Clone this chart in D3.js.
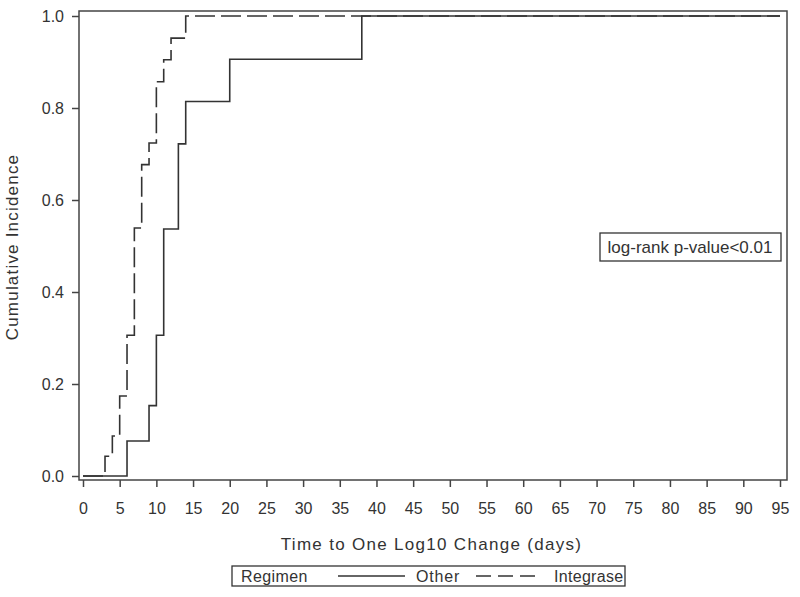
<!DOCTYPE html>
<html>
<head>
<meta charset="utf-8">
<script src="https://cdn.jsdelivr.net/npm/d3@7"></script>
<style>
  body { margin: 0; background: #fff; }
  text { font-family: "Liberation Sans", Arial, sans-serif; fill: #333; }
</style>
</head>
<body>
<div id="chart"></div>
<script>
// step curves (time in days, cumulative incidence)
const otherTimes = [0, 6, 9, 10, 11, 13, 14, 20, 38, 95]
const otherValues = [0, 0.076, 0.153, 0.306, 0.537, 0.722, 0.814, 0.906, 1.0, 1.0]
const integraseTimes = [0, 3, 4, 5, 6, 7, 8, 9, 10, 11, 12, 14, 95]
const integraseValues = [0, 0.043, 0.087, 0.174, 0.306, 0.539, 0.677, 0.724, 0.857, 0.905, 0.952, 1.0, 1.0]
const xTicks = d3.range(0, 100, 5)
const yTicks = [0, 0.2, 0.4, 0.6, 0.8, 1.0]
const legendTitle = 'Regimen'
const seriesNames = ['Other', 'Integrase']
const annotation = 'log-rank p-value<0.01'

const width = 800
const height = 597
const frame = { left: 79, right: 787, top: 11, bottom: 480 }
const ink = '#333'

const svg = d3.select('#chart').append('svg')
  .attr('width', width)
  .attr('height', height)

const xScale = d3.scaleLinear().domain([0, 95]).range([83, 780])
const yScale = d3.scaleLinear().domain([0, 1]).range([476, 16])

// plot frame
svg.append('rect')
  .attr('x', frame.left)
  .attr('y', frame.top)
  .attr('width', frame.right - frame.left)
  .attr('height', frame.bottom - frame.top)
  .attr('fill', 'none')
  .attr('stroke', '#444')
  .attr('stroke-width', 1.5)

const xAxis = svg.append('g')
  .attr('transform', 'translate(0,' + frame.bottom + ')')
  .call(d3.axisBottom(xScale).tickValues(xTicks).tickSize(7).tickPadding(16).tickFormat(d3.format('d')))
xAxis.select('.domain').remove()
xAxis.selectAll('line').attr('stroke', '#444').attr('stroke-width', 1.5)
xAxis.selectAll('text').attr('font-size', 16).attr('fill', ink)

const yAxis = svg.append('g')
  .attr('transform', 'translate(' + frame.left + ',0)')
  .call(d3.axisLeft(yScale).tickValues(yTicks).tickSize(7).tickPadding(8).tickFormat(d3.format('.1f')))
yAxis.select('.domain').remove()
yAxis.selectAll('line').attr('stroke', '#444').attr('stroke-width', 1.5)
yAxis.selectAll('text').attr('font-size', 16).attr('fill', ink)

svg.append('text')
  .attr('x', (xScale(0) + xScale(95)) / 2)
  .attr('y', 550)
  .attr('text-anchor', 'middle')
  .attr('font-size', 17)
  .attr('letter-spacing', 1.3)
  .text('Time to One Log10 Change (days)')

svg.append('text')
  .attr('transform', 'translate(18,247) rotate(-90)')
  .attr('text-anchor', 'middle')
  .attr('font-size', 17)
  .attr('letter-spacing', 1.2)
  .text('Cumulative Incidence')

const stepLine = d3.line()
  .curve(d3.curveStepAfter)
  .x(d => xScale(d[0]))
  .y(d => yScale(d[1]))

svg.append('path')
  .datum(d3.zip(otherTimes, otherValues))
  .attr('d', stepLine)
  .attr('fill', 'none')
  .attr('stroke', ink)
  .attr('stroke-width', 1.6)

svg.append('path')
  .datum(d3.zip(integraseTimes, integraseValues))
  .attr('d', stepLine)
  .attr('fill', 'none')
  .attr('stroke', ink)
  .attr('stroke-width', 1.6)
  .attr('stroke-dasharray', '20,6')

// p-value box
svg.append('rect')
  .attr('x', 600).attr('y', 233)
  .attr('width', 181).attr('height', 28)
  .attr('fill', 'white')
  .attr('stroke', ink)
  .attr('stroke-width', 1.3)
svg.append('text')
  .attr('x', 690).attr('y', 253)
  .attr('text-anchor', 'middle')
  .attr('font-size', 17)
  .text(annotation)

// legend
const legend = svg.append('g')
legend.append('rect')
  .attr('x', 232).attr('y', 566)
  .attr('width', 393).attr('height', 20)
  .attr('fill', 'none')
  .attr('stroke', ink)
  .attr('stroke-width', 1.3)
legend.append('text')
  .attr('x', 241).attr('y', 582)
  .attr('font-size', 16)
  .attr('letter-spacing', 0.4)
  .text(legendTitle)
legend.append('line')
  .attr('x1', 338).attr('x2', 405).attr('y1', 576).attr('y2', 576)
  .attr('stroke', ink).attr('stroke-width', 1.5)
legend.append('text')
  .attr('x', 416).attr('y', 582)
  .attr('font-size', 16)
  .attr('letter-spacing', 0.8)
  .text(seriesNames[0])
legend.append('line')
  .attr('x1', 476).attr('x2', 536).attr('y1', 576).attr('y2', 576)
  .attr('stroke', ink).attr('stroke-width', 1.5)
  .attr('stroke-dasharray', '15,7')
legend.append('text')
  .attr('x', 554).attr('y', 582)
  .attr('font-size', 16)
  .attr('letter-spacing', 0.3)
  .text(seriesNames[1])
</script>
</body>
</html>
